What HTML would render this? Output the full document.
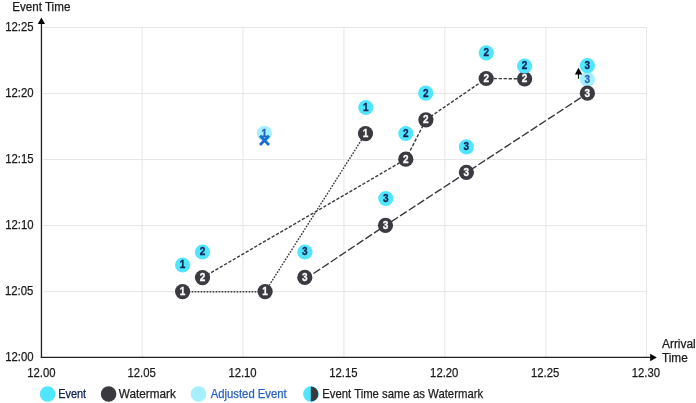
<!DOCTYPE html><html><head><meta charset="utf-8"><title>Event time vs arrival time</title><style>
html,body{margin:0;padding:0;background:#fff;}body{width:696px;height:403px;overflow:hidden;position:relative;}
svg{position:absolute;left:0;top:0;display:block;}
svg text{font-family:"Liberation Sans", Arial, sans-serif;}
.d{font-weight:bold;font-size:10px;text-anchor:middle;stroke-width:0.3px;}
.t{stroke-width:0.25px;}
</style></head><body>
<svg width="696" height="403" viewBox="0 0 696 403">
<g class="g">
<line x1="142.15" y1="27" x2="142.15" y2="357" stroke="#e6e6e6" stroke-width="1"/>
<line x1="242.95" y1="27" x2="242.95" y2="357" stroke="#e6e6e6" stroke-width="1"/>
<line x1="343.93" y1="27" x2="343.93" y2="357" stroke="#e6e6e6" stroke-width="1"/>
<line x1="444.83" y1="27" x2="444.83" y2="357" stroke="#e6e6e6" stroke-width="1"/>
<line x1="545.90" y1="27" x2="545.90" y2="357" stroke="#e6e6e6" stroke-width="1"/>
<line x1="646.45" y1="27" x2="646.45" y2="357" stroke="#e6e6e6" stroke-width="1"/>
<line x1="43" y1="27.50" x2="646.95" y2="27.50" stroke="#e6e6e6" stroke-width="1"/>
<line x1="43" y1="93.50" x2="646.95" y2="93.50" stroke="#e6e6e6" stroke-width="1"/>
<line x1="43" y1="159.55" x2="646.95" y2="159.55" stroke="#e6e6e6" stroke-width="1"/>
<line x1="43" y1="225.55" x2="646.95" y2="225.55" stroke="#e6e6e6" stroke-width="1"/>
<line x1="43" y1="291.70" x2="646.95" y2="291.70" stroke="#e6e6e6" stroke-width="1"/>
<line x1="41.45" y1="23" x2="41.45" y2="358.1" stroke="#222" stroke-width="1.3"/>
<line x1="40.8" y1="357.45" x2="651" y2="357.45" stroke="#222" stroke-width="1.3"/>
<polygon points="41.4,17.4 45,24 37.8,24" fill="#000"/>
<polygon points="656.8,357.5 650.2,353.8 650.2,361.3" fill="#000"/>
</g>
<text class="t" x="12.23" y="11.00" font-size="12.00" fill="#1a1a1a" stroke="#1a1a1a" textLength="58.14" lengthAdjust="spacingAndGlyphs">Event Time</text>
<text class="t" x="5.21" y="361.00" font-size="12.40" fill="#1a1a1a" stroke="#1a1a1a" textLength="28.41" lengthAdjust="spacingAndGlyphs">12:00</text>
<text class="t" x="4.94" y="295.00" font-size="12.40" fill="#1a1a1a" stroke="#1a1a1a" textLength="28.37" lengthAdjust="spacingAndGlyphs">12:05</text>
<text class="t" x="5.21" y="229.00" font-size="12.40" fill="#1a1a1a" stroke="#1a1a1a" textLength="28.41" lengthAdjust="spacingAndGlyphs">12:10</text>
<text class="t" x="5.21" y="163.00" font-size="12.40" fill="#1a1a1a" stroke="#1a1a1a" textLength="28.41" lengthAdjust="spacingAndGlyphs">12:15</text>
<text class="t" x="5.21" y="97.00" font-size="12.40" fill="#1a1a1a" stroke="#1a1a1a" textLength="28.41" lengthAdjust="spacingAndGlyphs">12:20</text>
<text class="t" x="5.21" y="31.00" font-size="12.40" fill="#1a1a1a" stroke="#1a1a1a" textLength="28.41" lengthAdjust="spacingAndGlyphs">12:25</text>
<text class="t" x="27.22" y="377.00" font-size="12.40" fill="#1a1a1a" stroke="#1a1a1a" textLength="28.26" lengthAdjust="spacingAndGlyphs">12.00</text>
<text class="t" x="127.55" y="377.00" font-size="12.40" fill="#1a1a1a" stroke="#1a1a1a" textLength="28.27" lengthAdjust="spacingAndGlyphs">12.05</text>
<text class="t" x="228.40" y="377.00" font-size="12.40" fill="#1a1a1a" stroke="#1a1a1a" textLength="28.27" lengthAdjust="spacingAndGlyphs">12.10</text>
<text class="t" x="329.25" y="377.00" font-size="12.40" fill="#1a1a1a" stroke="#1a1a1a" textLength="28.27" lengthAdjust="spacingAndGlyphs">12.15</text>
<text class="t" x="430.10" y="377.00" font-size="12.40" fill="#1a1a1a" stroke="#1a1a1a" textLength="28.27" lengthAdjust="spacingAndGlyphs">12.20</text>
<text class="t" x="530.95" y="377.00" font-size="12.40" fill="#1a1a1a" stroke="#1a1a1a" textLength="28.27" lengthAdjust="spacingAndGlyphs">12.25</text>
<text class="t" x="631.80" y="377.00" font-size="12.40" fill="#1a1a1a" stroke="#1a1a1a" textLength="28.27" lengthAdjust="spacingAndGlyphs">12.30</text>
<text class="t" x="662.05" y="348.00" font-size="12.00" fill="#1a1a1a" stroke="#1a1a1a" textLength="33.63" lengthAdjust="spacingAndGlyphs">Arrival</text>
<text class="t" x="661.94" y="362.00" font-size="12.00" fill="#1a1a1a" stroke="#1a1a1a" textLength="25.79" lengthAdjust="spacingAndGlyphs">Time</text>
<text class="t" x="58.18" y="398.00" font-size="12.20" fill="#0b2155" stroke="#0b2155" textLength="27.98" lengthAdjust="spacingAndGlyphs">Event</text>
<text class="t" x="118.76" y="398.00" font-size="12.20" fill="#1e1e1e" stroke="#1e1e1e" textLength="57.01" lengthAdjust="spacingAndGlyphs">Watermark</text>
<text class="t" x="210.66" y="398.00" font-size="12.20" fill="#2a62c0" stroke="#2a62c0" textLength="76.10" lengthAdjust="spacingAndGlyphs">Adjusted Event</text>
<text class="t" x="322.18" y="398.00" font-size="12.20" fill="#1e1e1e" stroke="#1e1e1e" textLength="160.98" lengthAdjust="spacingAndGlyphs">Event Time same as Watermark</text>
<g class="g">
<polyline points="182.6,291.8 265.1,291.8 365.5,133.6" fill="none" stroke="#3b3a40" stroke-width="1.4" stroke-dasharray="1.7 1.3"/>
<polyline points="202.5,277.6 405.8,159.2 425.9,119.8 486.2,78.5 524.6,78.8" fill="none" stroke="#3b3a40" stroke-width="1.4" stroke-dasharray="3.3 1.7"/>
<polyline points="304.8,279.3 385.5,225.4 466.4,172.6 587.4,93.4" fill="none" stroke="#3b3a40" stroke-width="1.4" stroke-dasharray="8 2.4"/>
<circle cx="264.4" cy="133.3" r="7.6" fill="#a5f0ff"/><text class="d" x="264.4" y="137" fill="#2a62c0" stroke="#2a62c0">1</text>
<circle cx="587.4" cy="79.3" r="7.6" fill="#a5f0ff"/><text class="d" x="587.4" y="83" fill="#2a62c0" stroke="#2a62c0">3</text>
<circle cx="182.6" cy="291.6" r="7.6" fill="#3b3a40"/><text class="d" x="182.6" y="295" fill="#fff" stroke="#fff">1</text>
<circle cx="265.1" cy="291.6" r="7.6" fill="#3b3a40"/><text class="d" x="265.1" y="295" fill="#fff" stroke="#fff">1</text>
<circle cx="365.5" cy="133.6" r="7.6" fill="#3b3a40"/><text class="d" x="365.5" y="137" fill="#fff" stroke="#fff">1</text>
<circle cx="202.5" cy="277.6" r="7.6" fill="#3b3a40"/><text class="d" x="202.5" y="281" fill="#fff" stroke="#fff">2</text>
<circle cx="405.8" cy="159.2" r="7.6" fill="#3b3a40"/><text class="d" x="405.8" y="163" fill="#fff" stroke="#fff">2</text>
<circle cx="425.9" cy="119.8" r="7.6" fill="#3b3a40"/><text class="d" x="425.9" y="123" fill="#fff" stroke="#fff">2</text>
<circle cx="486.2" cy="78.5" r="7.6" fill="#3b3a40"/><text class="d" x="486.2" y="82" fill="#fff" stroke="#fff">2</text>
<circle cx="524.6" cy="78.8" r="7.6" fill="#3b3a40"/><text class="d" x="524.6" y="82" fill="#fff" stroke="#fff">2</text>
<circle cx="304.8" cy="277.4" r="7.6" fill="#3b3a40"/><text class="d" x="304.8" y="281" fill="#fff" stroke="#fff">3</text>
<circle cx="385.5" cy="225.3" r="7.6" fill="#3b3a40"/><text class="d" x="385.5" y="229" fill="#fff" stroke="#fff">3</text>
<circle cx="466.4" cy="172.3" r="7.6" fill="#3b3a40"/><text class="d" x="466.4" y="176" fill="#fff" stroke="#fff">3</text>
<circle cx="587.4" cy="93.2" r="7.6" fill="#3b3a40"/><text class="d" x="587.4" y="97" fill="#fff" stroke="#fff">3</text>
<circle cx="182.6" cy="265.0" r="7.6" fill="#50e6ff"/><text class="d" x="182.6" y="268" fill="#0b2155" stroke="#0b2155">1</text>
<circle cx="202.5" cy="252.0" r="7.6" fill="#50e6ff"/><text class="d" x="202.5" y="255" fill="#0b2155" stroke="#0b2155">2</text>
<circle cx="304.9" cy="252.0" r="7.6" fill="#50e6ff"/><text class="d" x="304.9" y="255" fill="#0b2155" stroke="#0b2155">3</text>
<circle cx="365.8" cy="107.5" r="7.6" fill="#50e6ff"/><text class="d" x="365.8" y="111" fill="#0b2155" stroke="#0b2155">1</text>
<circle cx="405.8" cy="133.5" r="7.6" fill="#50e6ff"/><text class="d" x="405.8" y="137" fill="#0b2155" stroke="#0b2155">2</text>
<circle cx="425.7" cy="93.2" r="7.6" fill="#50e6ff"/><text class="d" x="425.7" y="97" fill="#0b2155" stroke="#0b2155">2</text>
<circle cx="385.8" cy="198.5" r="7.6" fill="#50e6ff"/><text class="d" x="385.8" y="202" fill="#0b2155" stroke="#0b2155">3</text>
<circle cx="466.4" cy="146.8" r="7.6" fill="#50e6ff"/><text class="d" x="466.4" y="150" fill="#0b2155" stroke="#0b2155">3</text>
<circle cx="486.3" cy="52.8" r="7.6" fill="#50e6ff"/><text class="d" x="486.3" y="56" fill="#0b2155" stroke="#0b2155">2</text>
<circle cx="524.6" cy="66.0" r="7.6" fill="#50e6ff"/><text class="d" x="524.6" y="69" fill="#0b2155" stroke="#0b2155">2</text>
<circle cx="587.4" cy="65.7" r="7.6" fill="#50e6ff"/><text class="d" x="587.4" y="69" fill="#0b2155" stroke="#0b2155">3</text>
<path d="M260,135.7 L269,145 M269,135.7 L260,145" stroke="#1670d0" stroke-width="2.8" stroke-linecap="butt"/>
<line x1="578.5" y1="73" x2="578.5" y2="78.7" stroke="#111" stroke-width="1.2"/>
<polygon points="578.5,67.8 582.2,74.5 574.9,74.5" fill="#000"/>
<circle cx="47.6" cy="394" r="7.8" fill="#50e6ff"/>
<circle cx="108.6" cy="394" r="7.8" fill="#3b3a40"/>
<circle cx="198.5" cy="394" r="7.8" fill="#a5f0ff"/>
<circle cx="310.9" cy="394" r="7.8" fill="#50e6ff"/>
<path d="M310.8,386.4 A7.6,7.6 0 0 1 310.8,401.6 Z" fill="#3b3a40"/>
</g>
</svg></body></html>
